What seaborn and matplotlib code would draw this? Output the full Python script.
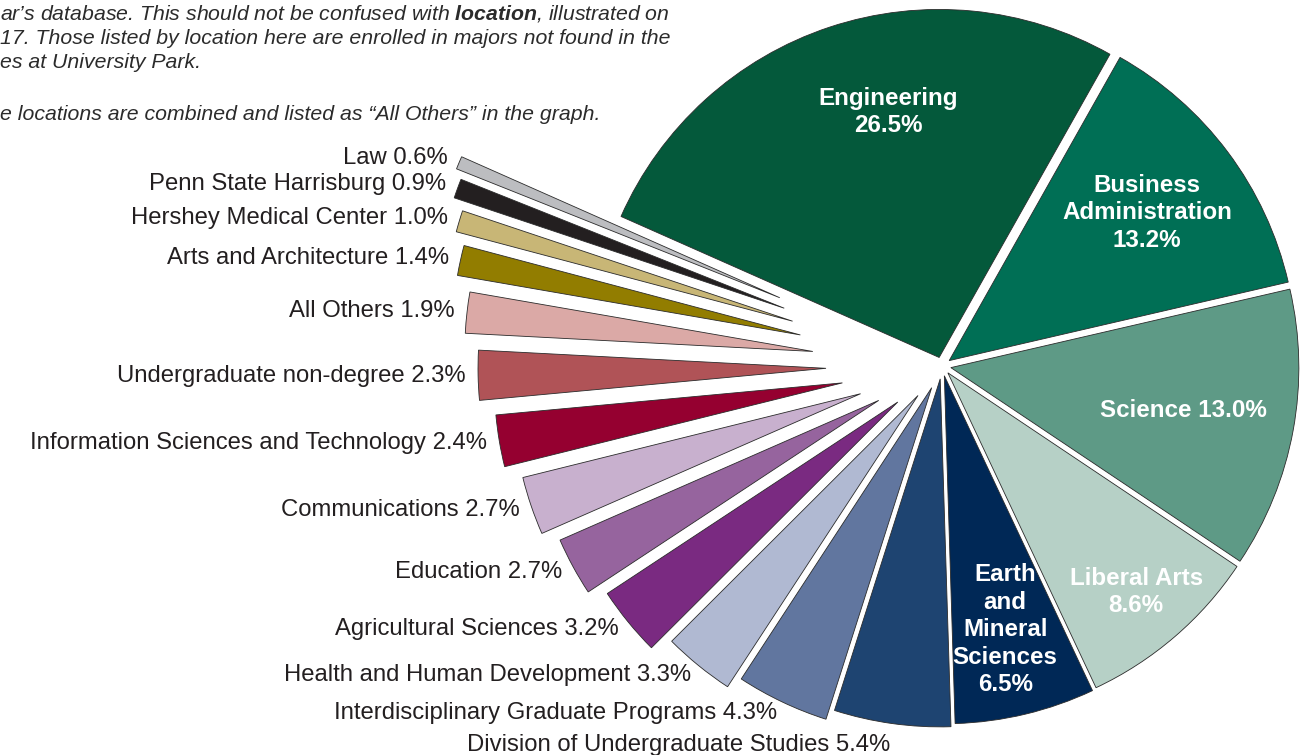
import numpy as np
import matplotlib
matplotlib.use("Agg")
import matplotlib.pyplot as plt
import seaborn as sns

# enrollment share by college (percent), clockwise from Engineering
colleges = [
    "Engineering", "Business Administration", "Science", "Liberal Arts",
    "Earth and Mineral Sciences", "Division of Undergraduate Studies",
    "Interdisciplinary Graduate Programs", "Health and Human Development",
    "Agricultural Sciences", "Education", "Communications",
    "Information Sciences and Technology", "Undergraduate non-degree",
    "All Others", "Arts and Architecture", "Hershey Medical Center",
    "Penn State Harrisburg", "Law",
]
shares = [26.5, 13.2, 13.0, 8.6, 6.5, 5.4, 4.3, 3.3, 3.2, 2.7, 2.7, 2.4, 2.3,
          1.9, 1.4, 1.0, 0.9, 0.6]
colors = [
    "#04593B", "#006F55", "#5E9A86", "#B6D0C6", "#002856", "#1E4471",
    "#61769F", "#B0B9D2", "#7A2A81", "#96649E", "#C8B0CE", "#950030",
    "#B05357", "#DBA9A6", "#927D00", "#C8B676", "#231F20", "#BCBDC0",
]

# labels drawn inside the big wedges (text, radial fraction, angular fraction)
inside = {
    "Engineering": ("Engineering\n{:.1f}%", 0.72, 0.43),
    "Business Administration": ("Business\nAdministration\n{:.1f}%", 0.71, 0.5),
    "Science": ("Science {:.1f}%", 0.68, 0.5),
    "Liberal Arts": ("Liberal Arts\n{:.1f}%", 0.83, 0.5),
    "Earth and Mineral Sciences": ("Earth\nand\nMineral\nSciences\n{:.1f}%", 0.75, 0.5),
}

# layout (pixels)
W, H = 1316, 755
CX, CY = 942, H - 366
R = 348
explode = [9, 9, 9, 9, 10, 13, 24, 38, 57, 72, 86, 101, 116, 130, 145, 156, 168, 176]

note_lines = [
    r"ar’s database. This should not be confused with $\bf{location}$, illustrated on",
    "17. Those listed by location here are enrolled in majors not found in the",
    "es at University Park.",
    "e locations are combined and listed as “All Others” in the graph.",
]
note_y = [14, 38, 62, 115]

sns.set_theme(style="white")
plt.rcParams["font.family"] = ["Liberation Sans", "DejaVu Sans"]
plt.rcParams["mathtext.fontset"] = "custom"
plt.rcParams["mathtext.bf"] = "Liberation Sans:italic:bold"

fig = plt.figure(figsize=(W / 100, H / 100), dpi=100)
ax = fig.add_axes([0, 0, 1, 1])

wedges, _ = ax.pie(
    shares,
    colors=sns.color_palette(colors),
    explode=explode,
    radius=R,
    center=(CX, CY),
    startangle=156.1,
    counterclock=False,
    wedgeprops=dict(edgecolor="#2b2b2b", linewidth=0.6),
)
ax.set_xlim(0, W)
ax.set_ylim(0, H)
ax.set_aspect("equal")
ax.axis("off")

text_dark = "#231F20"
for name, share, w in zip(colleges, shares, wedges):
    cx, cy = w.center
    if name in inside:
        fmt, rf, af = inside[name]
        ang = np.deg2rad(w.theta1 + af * (w.theta2 - w.theta1))
        ax.text(cx + rf * w.r * np.cos(ang), cy + rf * w.r * np.sin(ang),
                fmt.format(share), ha="center", va="center", color="white",
                fontsize=17.4, fontweight="bold", linespacing=1.25)
    else:
        ang = np.deg2rad(0.5 * (w.theta1 + w.theta2))
        rr = w.r + 12
        ty = cy + rr * np.sin(ang)
        if np.sin(ang) < -0.95:  # label under the bottom wedge
            ty -= 10
        ax.text(cx + rr * np.cos(ang), ty,
                f"{name} {share:.1f}%", ha="right", va="center",
                color=text_dark, fontsize=17.2)

for line, y in zip(note_lines, note_y):
    ax.text(0, H - y, line, ha="left", va="center",
            style="italic", fontsize=15.3, color="#2b2b2b")

fig.savefig("out.png", dpi=100)
plt.close(fig)
